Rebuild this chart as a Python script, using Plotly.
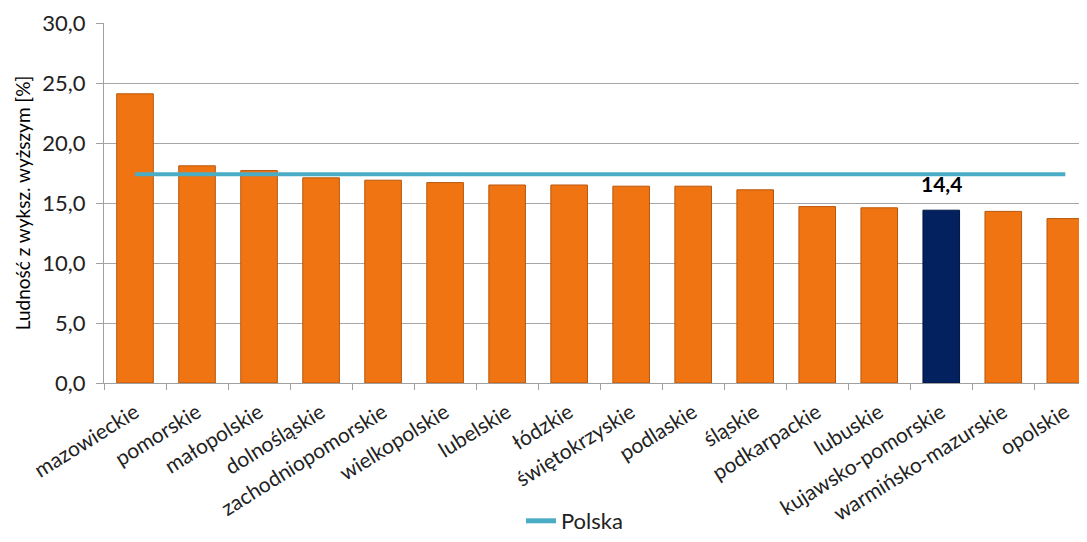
import plotly.graph_objects as go

categories = ["mazowieckie", "pomorskie", "małopolskie", "dolnośląskie", "zachodniopomorskie",
              "wielkopolskie", "lubelskie", "łódzkie", "świętokrzyskie", "podlaskie", "śląskie",
              "podkarpackie", "lubuskie", "kujawsko-pomorskie", "warmińsko-mazurskie", "opolskie"]
values = [24.1, 18.1, 17.7, 17.1, 16.9, 16.7, 16.5, 16.5, 16.4, 16.4, 16.1, 14.7, 14.6, 14.4, 14.3, 13.7]
polska = 17.4
highlight = "kujawsko-pomorskie"

orange = "#F07512"
navy = "#03215E"
colors = [navy if c == highlight else orange for c in categories]
line_colors = ["#011440" if c == highlight else "#B9560A" for c in categories]

FONT = "Lato"

fig = go.Figure()
fig.add_trace(go.Bar(
    x=categories, y=values, marker=dict(color=colors, line=dict(color=line_colors, width=1)),
    width=0.59, showlegend=False,
))
fig.add_trace(go.Scatter(
    x=categories, y=[polska] * len(categories), mode="lines", name="Polska",
    line=dict(color="#4BACC6", width=4),
))

hi = categories.index(highlight)
fig.add_annotation(x=categories[hi], y=values[hi], yanchor="bottom", yshift=12, showarrow=False,
                   text="<b>" + f"{values[hi]:.1f}".replace(".", ",") + "</b>",
                   font=dict(size=21, color="black", family=FONT))

fig.update_layout(
    width=1079, height=534,
    margin=dict(l=96, r=0, t=15, b=159, autoexpand=False),
    plot_bgcolor="white", paper_bgcolor="white",
    separators=", ",
    font=dict(family=FONT, size=20, color="#222222"),
    bargap=0.41,
    legend=dict(orientation="h", xref="container", yref="container", x=0.525, y=0.0,
                xanchor="center", yanchor="bottom", font=dict(size=22, color="#222222"),
                tracegroupgap=0, itemsizing="constant"),
    xaxis=dict(range=[-0.5, 15.35], tickangle=-32, ticks="outside", ticklen=6, tickcolor="#A0A0A0",
               tickson="boundaries", showline=True, linecolor="#A0A0A0", ticklabelstandoff=8,
               automargin=False, tickfont=dict(size=21, color="#222222")),
    yaxis=dict(range=[0, 30], dtick=5, tickformat=".1f", showgrid=True, gridcolor="#A6A6A6",
               ticks="outside", ticklen=7, tickcolor="#A0A0A0", showline=True, linecolor="#A0A0A0",
               zeroline=False, ticklabelstandoff=6, automargin=False, tickfont=dict(size=22, color="#222222"),
               title=dict(text="Ludność z wyksz. wyższym [%]", font=dict(size=19, color="black"), standoff=6)),
)

fig.write_html("out.html")
